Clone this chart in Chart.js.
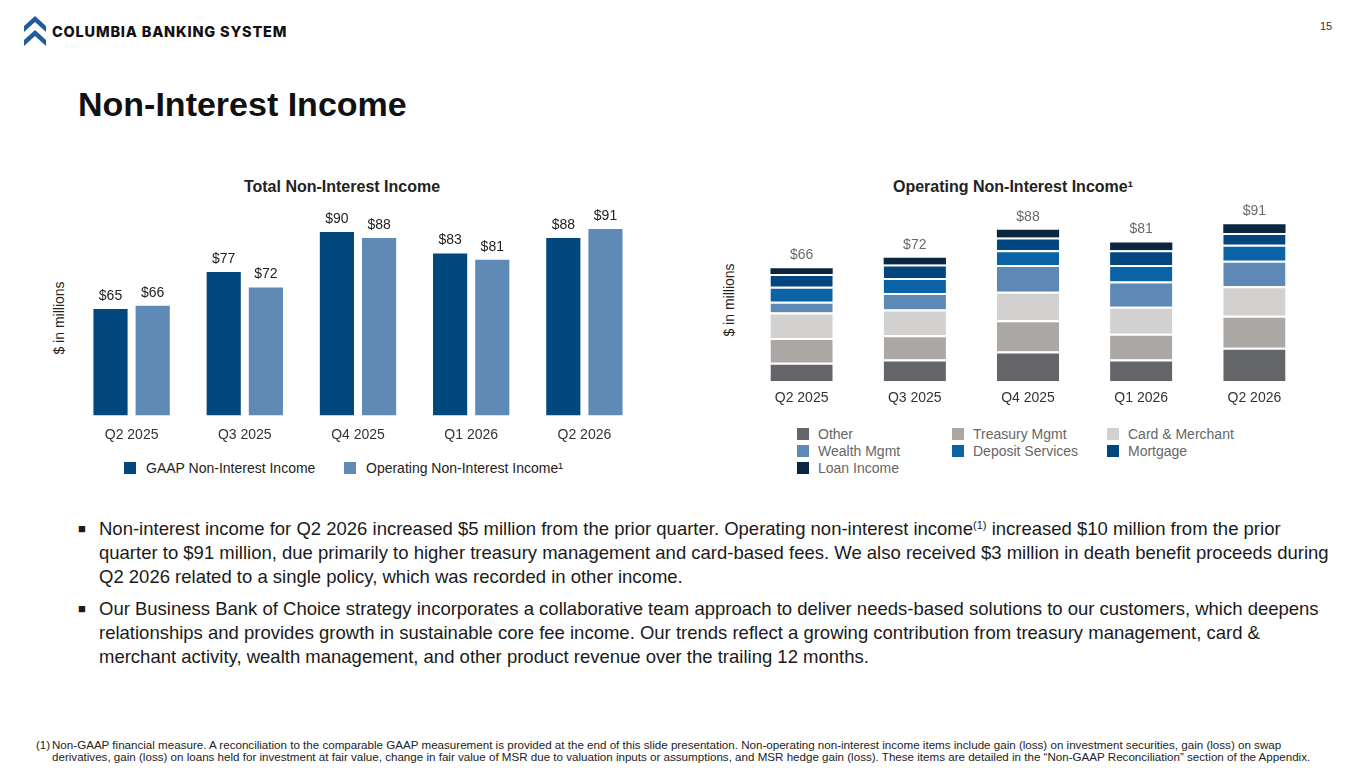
<html>
<head>
  <meta charset="utf-8" />
  <title>Non-Interest Income</title>
  <script src="https://cdn.jsdelivr.net/npm/chart.js@4.4.1/dist/chart.umd.min.js"></script>
  <style>
    body {
      margin: 0;
      width: 1365px;
      height: 768px;
      background: white;
      position: relative;
      overflow: hidden;
      font-family: "Liberation Sans", Arial, sans-serif;
      color: #1a1a1a;
    }
    .abs { position: absolute; white-space: nowrap; }
    .brand { left: 52px; top: 23px; font-family: Inter, "Liberation Sans", sans-serif; font-weight: 800; font-size: 14.5px; color: #111; letter-spacing: 0.8px; }
    .pagenum { left: 1320px; top: 20px; font-size: 11px; color: #333; }
    .title { left: 78px; top: 85px; font-size: 34px; font-weight: bold; color: #111; }
    .chart-title { top: 178px; font-size: 16px; font-weight: bold; color: #222; transform: translateX(-50%); }
    .ylabel { font-size: 14px; color: #222; transform: translate(-50%, -50%) rotate(-90deg); }
    canvas { position: absolute; }
    .legend-item { position: absolute; font-size: 14px; white-space: nowrap; }
    .legend-item span.box { position: absolute; left: 0; top: 2px; width: 12px; height: 12px; }
    .bullet { left: 78px; font-size: 13px; }
    .para { left: 99px; font-size: 18.5px; line-height: 24px; color: #1a1a1a; }
    .para sup { font-size: 11px; vertical-align: 6px; line-height: 0; }
    .foot { font-family: "Liberation Sans Narrow", "Liberation Sans", sans-serif; font-size: 11.6px; line-height: 12px; color: #222; }
  </style>
</head>
<body>
  <svg class="abs" style="left:24px; top:16px" width="24" height="32" viewBox="0 0 24 32">
    <polygon points="11,0 22,10 22,16 11,6 0,16 0,10" fill="#1f5c9c" />
    <polygon points="11,14 22,24 22,30 11,20 0,30 0,24" fill="#1f5c9c" />
  </svg>
  <div class="abs brand">COLUMBIA BANKING SYSTEM</div>
  <div class="abs pagenum">15</div>
  <div class="abs title">Non-Interest Income</div>

  <div class="abs chart-title" style="left:342px">Total Non-Interest Income</div>
  <div class="abs chart-title" style="left:1013px">Operating Non-Interest Income¹</div>
  <div class="abs ylabel" style="left:59px; top:318px">$ in millions</div>
  <div class="abs ylabel" style="left:729px; top:300px">$ in millions</div>

  <canvas id="totalChart" style="left:75px; top:195px; width:566px; height:253px" width="566" height="253"></canvas>
  <canvas id="operatingChart" style="left:745px; top:195px; width:566px; height:213px" width="566" height="213"></canvas>

  <div id="totalLegend"></div>
  <div id="operatingLegend"></div>

  <div class="abs bullet" style="top:521px">■</div>
  <div class="abs para" style="top:517px">Non-interest income for Q2 2026 increased $5 million from the prior quarter. Operating non-interest income<sup>(1)</sup> increased $10 million from the prior<br>quarter to $91 million, due primarily to higher treasury management and card-based fees. We also received $3 million in death benefit proceeds during<br>Q2 2026 related to a single policy, which was recorded in other income.</div>
  <div class="abs bullet" style="top:601px">■</div>
  <div class="abs para" style="top:597px">Our Business Bank of Choice strategy incorporates a collaborative team approach to deliver needs-based solutions to our customers, which deepens<br>relationships and provides growth in sustainable core fee income. Our trends reflect a growing contribution from treasury management, card &amp;<br>merchant activity, wealth management, and other product revenue over the trailing 12 months.</div>

  <div class="abs foot" style="left:36px; top:739px">(1)</div>
  <div class="abs foot" style="left:52px; top:739px">Non-GAAP financial measure. A reconciliation to the comparable GAAP measurement is provided at the end of this slide presentation. Non-operating non-interest income items include gain (loss) on investment securities, gain (loss) on swap<br>derivatives, gain (loss) on loans held for investment at fair value, change in fair value of MSR due to valuation inputs or assumptions, and MSR hedge gain (loss). These items are detailed in the “Non-GAAP Reconciliation” section of the Appendix.</div>

  <script>
    // quarters and values, $ in millions
    const quarters = ["Q2 2025", "Q3 2025", "Q4 2025", "Q1 2026", "Q2 2026"];
    const gaapIncome = [65, 77, 90, 83, 88];
    const operatingIncome = [66, 72, 88, 81, 91];

    // operating non-interest income by component
    const otherIncome = [10.7, 12.6, 17.2, 12.6, 19.4];
    const treasuryMgmt = [14.3, 14.1, 18.2, 14.9, 18.6];
    const cardMerchant = [14.9, 14.9, 16.5, 15.7, 17.1];
    const wealthMgmt = [6.2, 9.5, 15.5, 14.7, 14.7];
    const depositServices = [8.7, 8.7, 8.5, 9.5, 9.3];
    const mortgage = [7.4, 7.9, 7.4, 8.5, 6.8];
    const loanIncome = [3.3, 3.9, 4.5, 4.5, 5.2];

    const componentNames = ["Other", "Treasury Mgmt", "Card & Merchant", "Wealth Mgmt", "Deposit Services", "Mortgage", "Loan Income"];
    const componentData = [otherIncome, treasuryMgmt, cardMerchant, wealthMgmt, depositServices, mortgage, loanIncome];
    const componentColors = ["#646568", "#aaa7a4", "#d2d1cf", "#5e89b6", "#0a63a6", "#01467f", "#0b2641"];

    // draws "$xx" above bars; labelsFor(datasetIndex) returns the values or null
    function valueLabels(labelsFor, color) {
      return {
        id: "valueLabels",
        afterDatasetsDraw(chart) {
          const ctx = chart.ctx;
          ctx.save();
          ctx.font = "14px 'Liberation Sans', Arial, sans-serif";
          ctx.fillStyle = color;
          ctx.textAlign = "center";
          ctx.textBaseline = "bottom";
          chart.data.datasets.forEach((ds, i) => {
            const vals = labelsFor(i);
            if (!vals) return;
            chart.getDatasetMeta(i).data.forEach((bar, j) => {
              ctx.fillText("$" + vals[j], bar.x, bar.y - 6);
            });
          });
          ctx.restore();
        }
      };
    }

    const xAxis = {
      grid: { display: false },
      border: { display: false },
      ticks: { color: "#333", font: { size: 14, family: "'Liberation Sans', Arial, sans-serif" }, padding: 4 }
    };

    new Chart(document.getElementById("totalChart"), {
      type: "bar",
      data: {
        labels: quarters,
        datasets: [
          { label: "GAAP Non-Interest Income", data: gaapIncome, backgroundColor: "#01487f" },
          { label: "Operating Non-Interest Income¹", data: operatingIncome, backgroundColor: "#5f8ab5" }
        ]
      },
      options: {
        responsive: false,
        animation: false,
        categoryPercentage: 0.745,
        barPercentage: 0.81,
        layout: { padding: 0 },
        plugins: { legend: { display: false }, tooltip: { enabled: false } },
        scales: {
          x: xAxis,
          y: { display: false, min: 30.5, max: 102 }
        }
      },
      plugins: [valueLabels(i => (i === 0 ? gaapIncome : operatingIncome), "#222")]
    });

    new Chart(document.getElementById("operatingChart"), {
      type: "bar",
      data: {
        labels: quarters,
        datasets: componentNames.map((name, i) => ({
          label: name,
          data: componentData[i],
          backgroundColor: componentColors[i],
          borderColor: "#ffffff",
          borderWidth: i < componentNames.length - 1 ? { top: 2, left: 0, right: 0, bottom: 0 } : 0,
          borderSkipped: false
        }))
      },
      options: {
        responsive: false,
        animation: false,
        categoryPercentage: 1,
        barPercentage: 0.55,
        layout: { padding: 0 },
        plugins: { legend: { display: false }, tooltip: { enabled: false } },
        scales: {
          x: Object.assign({}, xAxis, { stacked: true, ticks: Object.assign({}, xAxis.ticks, { padding: 1 }) }),
          y: { display: false, stacked: true, min: 0, max: 108 }
        }
      },
      plugins: [valueLabels(i => (i === componentNames.length - 1 ? operatingIncome : null), "#6b6b6b")]
    });

    // html legends
    function addLegend(containerId, items) {
      const box = document.getElementById(containerId);
      items.forEach(it => {
        const d = document.createElement("div");
        d.className = "legend-item";
        d.style.left = it.x + "px";
        d.style.top = it.y + "px";
        d.style.paddingLeft = it.indent + "px";
        d.style.color = it.textColor;
        d.innerHTML = '<span class="box" style="background:' + it.color + '"></span>';
        d.appendChild(document.createTextNode(it.text));
        box.appendChild(d);
      });
    }

    addLegend("totalLegend", [
      { x: 124, y: 460, indent: 22, text: "GAAP Non-Interest Income", color: "#01487f", textColor: "#222" },
      { x: 344, y: 460, indent: 22, text: "Operating Non-Interest Income¹", color: "#5f8ab5", textColor: "#222" }
    ]);

    const colX = [797, 952, 1107];
    addLegend("operatingLegend", componentNames.map((name, i) => ({
      x: colX[i % 3],
      y: 426 + Math.floor(i / 3) * 17,
      indent: 21,
      text: name,
      color: componentColors[i],
      textColor: "#666"
    })));
  </script>
</body>
</html>
